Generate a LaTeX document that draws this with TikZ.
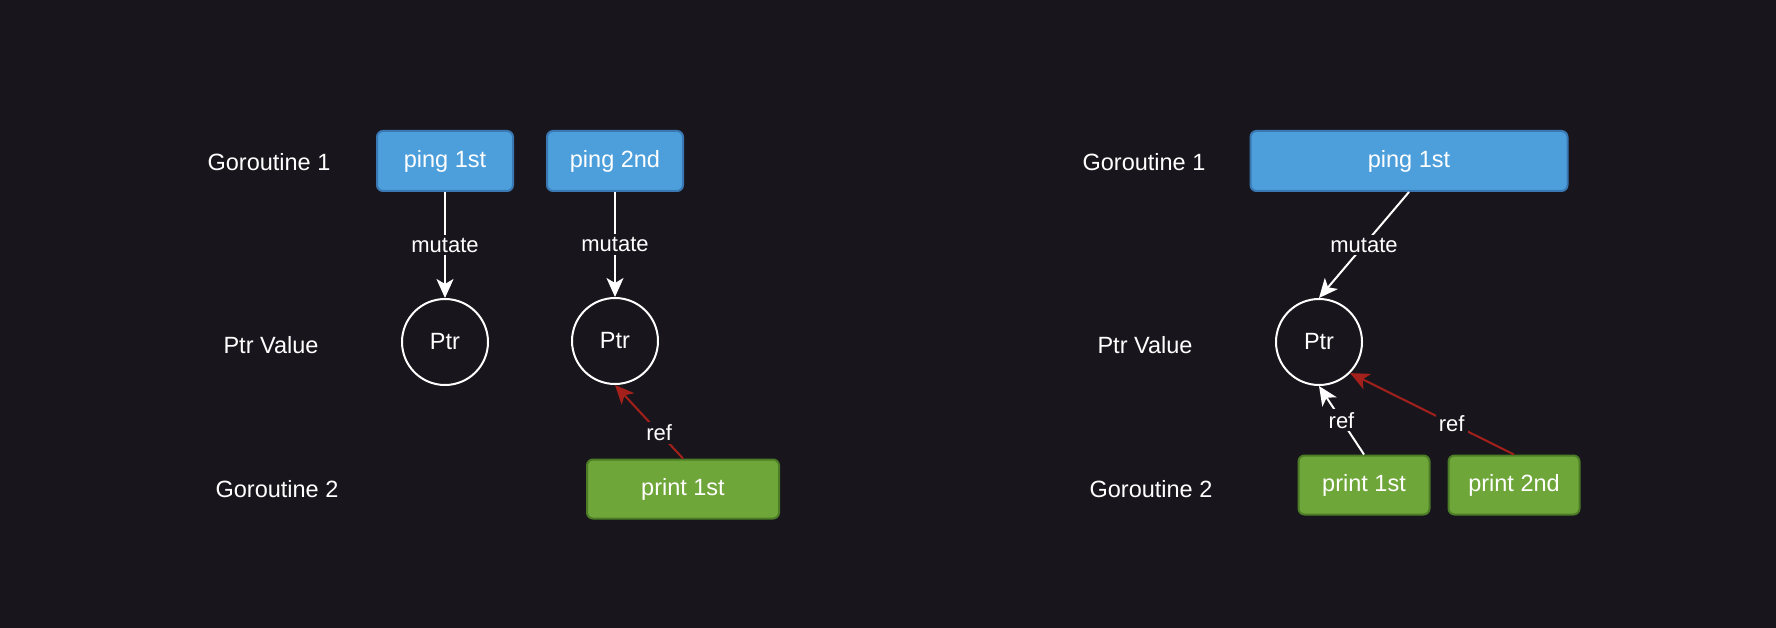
\documentclass[tikz,border=0pt]{standalone}
\usepackage{fontspec}
\setmainfont{Liberation Sans}
\usetikzlibrary{arrows.meta}
\definecolor{bg}{HTML}{18161C}
\definecolor{bluefill}{HTML}{4D9FDC}
\definecolor{bluedraw}{HTML}{3A78B4}
\definecolor{greenfill}{HTML}{6FA63A}
\definecolor{greendraw}{HTML}{4C7D26}
\definecolor{redline}{HTML}{A3201B}
\tikzset{
  lbl/.style={text=white, font=\fontsize{23.5}{28}\selectfont, inner sep=0pt},
  bluebox/.style={draw=bluedraw, fill=bluefill, line width=2pt, rounded corners=6pt,
    minimum height=60pt, text=white, font=\fontsize{23.5}{28}\selectfont, inner sep=0pt},
  greenbox/.style={draw=greendraw, fill=greenfill, line width=2pt, rounded corners=6pt,
    minimum height=59pt, text=white, font=\fontsize{23.5}{28}\selectfont, inner sep=0pt},
  ptrnode/.style={circle, draw=white, line width=2pt, minimum size=86pt, inner sep=0pt,
    text=white, font=\fontsize{23.5}{28}\selectfont},
  conn/.style={line width=2pt, -{Stealth[length=19pt,width=17pt,inset=5pt]}},
  elabel/.style={fill=bg, text=white, font=\fontsize{22}{26}\selectfont, inner sep=3pt}
}
\begin{document}
\begin{tikzpicture}[x=1pt,y=-1pt]
\fill[bg] (0,0) rectangle (1776,628);
\useasboundingbox (0,0) rectangle (1776,628);
% left diagram
\node[lbl] (g1L) at (269,162) {Goroutine 1};
\node[lbl] (pvL) at (271,345) {Ptr Value};
\node[lbl] (g2L) at (277,489) {Goroutine 2};
\node[bluebox, minimum width=136pt] (ping1L) at (445,161) {ping 1st};
\node[bluebox, minimum width=136pt] (ping2L) at (615,161) {ping 2nd};
\node[ptrnode] (ptr1L) at (445,342) {Ptr};
\node[ptrnode] (ptr2L) at (615,341) {Ptr};
\node[greenbox, minimum width=192pt] (print1L) at (683,489) {print 1st};
\draw[conn, white] (ping1L.south) -- node[elabel] {mutate} (ptr1L.north);
\draw[conn, white] (ping2L.south) -- node[elabel] {mutate} (ptr2L.north);
\draw[conn, redline] (print1L.north) -- node[elabel, pos=0.35] {ref} (ptr2L.south);
% right diagram
\node[lbl] (g1R) at (1144,162) {Goroutine 1};
\node[lbl] (pvR) at (1145,345) {Ptr Value};
\node[lbl] (g2R) at (1151,489) {Goroutine 2};
\node[bluebox, minimum width=317pt] (ping1R) at (1409,161) {ping 1st};
\node[ptrnode] (ptrR) at (1319,342) {Ptr};
\node[greenbox, minimum width=131pt] (print1R) at (1364,485) {print 1st};
\node[greenbox, minimum width=131pt] (print2R) at (1514,485) {print 2nd};
\draw[conn, white] (ping1R.south) -- node[elabel] {mutate} (ptrR.north);
\draw[conn, white] (print1R.north) -- node[elabel] {ref} (ptrR.south);
\draw[conn, redline] (print2R.north) -- node[elabel, pos=0.38] {ref} (ptrR.-45);
\end{tikzpicture}
\end{document}
